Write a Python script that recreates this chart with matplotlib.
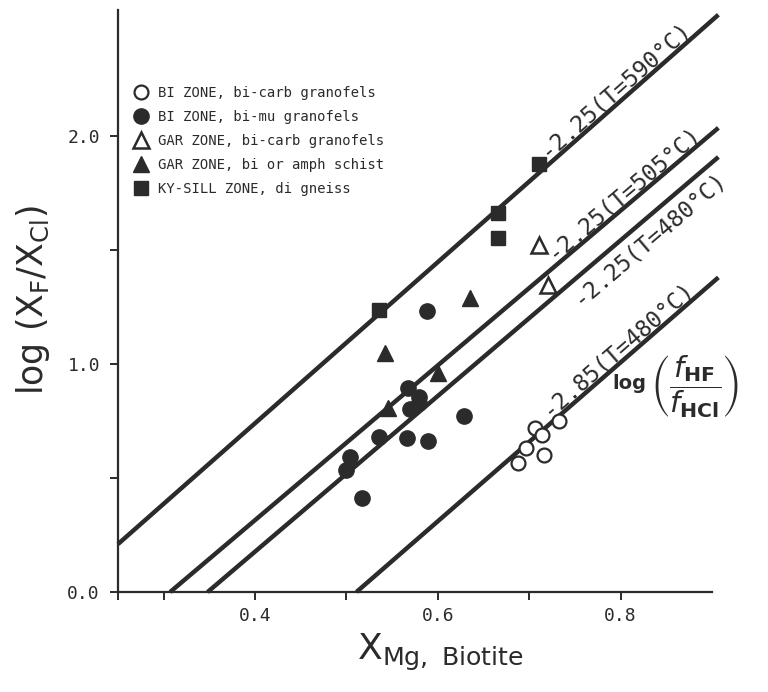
import matplotlib.pyplot as plt
import numpy as np
from matplotlib.lines import Line2D
from matplotlib.transforms import offset_copy

INK = "#2b2b2b"
MONO = "DejaVu Sans Mono"

# values: X_Mg (biotite) vs log(XF/XCl)
bi_carb_x = [0.688, 0.696, 0.706, 0.714, 0.716, 0.733]
bi_carb_y = [0.565, 0.630, 0.720, 0.690, 0.600, 0.750]

bi_mu_x = [0.499, 0.504, 0.517, 0.536, 0.566, 0.567, 0.570, 0.579, 0.579, 0.588, 0.589, 0.629]
bi_mu_y = [0.534, 0.590, 0.410, 0.680, 0.674, 0.893, 0.800, 0.853, 0.827, 1.230, 0.660, 0.770]

gar_carb_x = [0.711, 0.720]
gar_carb_y = [1.520, 1.344]

gar_schist_x = [0.542, 0.545, 0.600, 0.635]
gar_schist_y = [1.046, 0.805, 0.958, 1.290]

kysill_x = [0.536, 0.666, 0.666, 0.711]
kysill_y = [1.234, 1.660, 1.550, 1.877]

legend_labels = [
    "BI ZONE, bi-carb granofels",
    "BI ZONE, bi-mu granofels",
    "GAR ZONE, bi-carb granofels",
    "GAR ZONE, bi or amph schist",
    "KY-SILL ZONE, di gneiss",
]

# isopleths of log(fHF/fHCl): y = slope * x + icept
line_labels = ["-2.25(T=590°C)", "-2.25(T=505°C)", "-2.25(T=480°C)", "-2.85(T=480°C)"]
line_slope = [3.53, 3.39, 3.41, 3.48]
line_icept = [-0.6725, -1.041, -1.187, -1.778]
line_xstart = [0.25, 0.307, 0.348, 0.511]
line_xend = 0.907
label_x = [0.724, 0.731, 0.739, 0.726]
label_above = [True, True, False, True]

fig = plt.figure(figsize=(7.68, 6.92), dpi=100)
ax = fig.add_axes([118 / 768, 1 - 592 / 692, (712 - 118) / 768, (592 - 10) / 692])
ax.set_xlim(0.25, 0.9)
ax.set_ylim(0, 2.55)

for sl, ic, x0 in zip(line_slope, line_icept, line_xstart):
    xs = np.array([x0, line_xend])
    ax.plot(xs, sl * xs + ic, color=INK, lw=3.2, solid_capstyle="butt", clip_on=False, zorder=2)

ms = 10
ax.plot(bi_carb_x, bi_carb_y, "o", ms=ms, mfc="white", mec=INK, mew=1.6, ls="none", zorder=3)
ax.plot(bi_mu_x, bi_mu_y, "o", ms=ms + 1, color=INK, ls="none", zorder=3)
ax.plot(gar_carb_x, gar_carb_y, "^", ms=ms + 1, mfc="white", mec=INK, mew=1.8, ls="none", zorder=3)
ax.plot(gar_schist_x, gar_schist_y, "^", ms=ms + 2, color=INK, ls="none", zorder=3)
ax.plot(kysill_x, kysill_y, "s", ms=ms, color=INK, ls="none", zorder=3)

# labels riding along each line
for s, sl, ic, lx, up in zip(line_labels, line_slope, line_icept, label_x, label_above):
    ly = sl * lx + ic
    ang = ax.transData.transform_angles(np.array([np.degrees(np.arctan(sl))]),
                                        np.array([[lx, ly]]))[0]
    th = np.radians(ang)
    d = 4 if up else -4
    tr = offset_copy(ax.transData, fig=fig, x=-np.sin(th) * d, y=np.cos(th) * d, units="points")
    ax.text(lx, ly, s, transform=tr, rotation=ang, rotation_mode="anchor",
            ha="left", va="baseline" if up else "top", fontsize=16.5,
            family=MONO, color=INK, zorder=4)

handles = [
    Line2D([], [], marker="o", ls="none", ms=10, mfc="white", mec=INK, mew=1.6),
    Line2D([], [], marker="o", ls="none", ms=11, color=INK),
    Line2D([], [], marker="^", ls="none", ms=11, mfc="white", mec=INK, mew=1.8),
    Line2D([], [], marker="^", ls="none", ms=12, color=INK),
    Line2D([], [], marker="s", ls="none", ms=10, color=INK),
]
leg = fig.legend(handles, legend_labels, loc="upper left",
                 bbox_to_anchor=(134 / 768, 1 - 86 / 692), frameon=False,
                 borderpad=0, borderaxespad=0, handlelength=1.0, handletextpad=0.75,
                 labelspacing=0.72, prop={"family": MONO, "size": 10})
for t in leg.get_texts():
    t.set_color(INK)

for side in ["top", "right"]:
    ax.spines[side].set_visible(False)
for side in ["left", "bottom"]:
    ax.spines[side].set_linewidth(1.6)
    ax.spines[side].set_color(INK)

ax.set_xticks([0.4, 0.6, 0.8])
ax.set_xticklabels(["0.4", "0.6", "0.8"])
ax.set_xticks([0.25, 0.3, 0.5, 0.7], minor=True)
ax.set_yticks([0.0, 1.0, 2.0])
ax.set_yticklabels(["0.0", "1.0", "2.0"])
ax.set_yticks([0.5, 1.5], minor=True)
ax.tick_params(which="both", direction="out", length=6, width=1.4, color=INK,
               labelsize=13, labelcolor=INK)
ax.tick_params(axis="x", which="both", pad=5)
ax.tick_params(axis="y", which="both", pad=7)
for lab in ax.get_xticklabels() + ax.get_yticklabels():
    lab.set_family(MONO)

fig.text(33 / 768, 1 - 300 / 692, r"$\mathrm{log\ (X_F/X_{Cl})}$", rotation=90,
         ha="center", va="center", fontsize=25, color=INK)
fig.text(440 / 768, 1 - 652 / 692, r"$\mathrm{X}_{\mathrm{Mg,\ Biotite}}$",
         ha="center", va="center", fontsize=26, color=INK)
fig.text(612 / 768, 1 - 384 / 692, "log", ha="left", va="center",
         fontsize=14, weight="bold", color=INK)
fig.text(650 / 768, 1 - 387 / 692,
         r"$\left(\dfrac{f_{\mathbf{HF}}}{f_{\mathbf{HCl}}}\right)$",
         ha="left", va="center", fontsize=21, color=INK)

fig.savefig("out.png", dpi=100, facecolor="white")
